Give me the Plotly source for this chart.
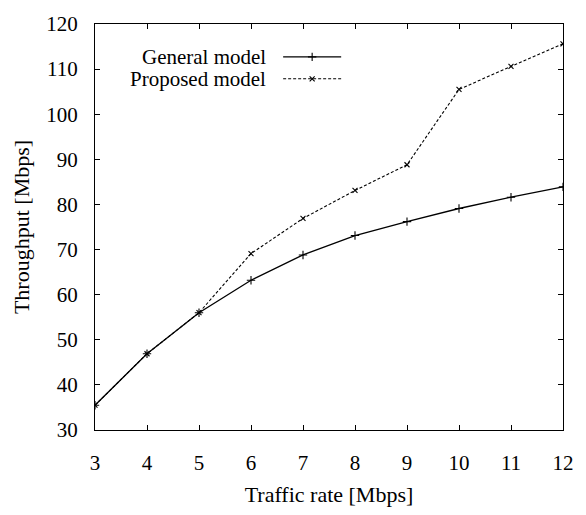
import plotly.graph_objects as go

traffic_rate = [3, 4, 5, 6, 7, 8, 9, 10, 11, 12]
general_model = [35.5, 46.9, 56.0, 63.2, 68.8, 73.1, 76.2, 79.1, 81.6, 83.9]
proposed_model = [35.5, 46.9, 56.0, 69.1, 76.9, 83.1, 88.8, 105.5, 110.6, 115.6]
series_names = ["General model", "Proposed model"]
x_ticks = list(range(3, 13))
y_ticks = list(range(30, 121, 10))

FONT = "Liberation Serif"
BLACK = "#000000"

fig = go.Figure()
fig.add_trace(go.Scatter(
    x=traffic_rate, y=general_model, mode="lines+markers", name=series_names[0],
    line=dict(color=BLACK, width=1.3),
    marker=dict(symbol="cross-thin", size=6, line=dict(color=BLACK, width=1.1)),
    showlegend=False))
fig.add_trace(go.Scatter(
    x=traffic_rate, y=proposed_model, mode="lines+markers", name=series_names[1],
    line=dict(color=BLACK, width=1.1, dash="3px,2px"),
    marker=dict(symbol="x-thin", size=5, line=dict(color=BLACK, width=1.1)),
    showlegend=False))

# custom legend (text left of sample, as in the reference)
leg_rows = [0.919, 0.865]
leg_x0, leg_x1 = 0.402, 0.526
styles = [dict(dash="solid", width=1.3, sym="cross-thin", size=6),
          dict(dash="3px,2px", width=1.1, sym="x-thin", size=5)]
for name, yy, st in zip(series_names, leg_rows, styles):
    fig.add_trace(go.Scatter(
        x=[leg_x0, leg_x1], y=[yy, yy], xaxis="x2", yaxis="y2", mode="lines",
        line=dict(color=BLACK, width=st["width"], dash=st["dash"]),
        showlegend=False, hoverinfo="skip"))
    fig.add_trace(go.Scatter(
        x=[(leg_x0 + leg_x1) / 2], y=[yy], xaxis="x2", yaxis="y2", mode="markers",
        marker=dict(symbol=st["sym"], size=st["size"], line=dict(color=BLACK, width=1.1)),
        showlegend=False, hoverinfo="skip"))
    fig.add_annotation(x=leg_x0 - 0.032, y=yy, xref="x2", yref="y2", text=name,
                       showarrow=False, xanchor="right", yanchor="middle",
                       font=dict(family=FONT, size=21, color=BLACK))

axis_common = dict(
    showline=True, linecolor=BLACK, linewidth=1.3, mirror="ticks",
    ticks="inside", ticklen=5, tickwidth=1, tickcolor=BLACK,
    showgrid=False, zeroline=False,
    tickfont=dict(family=FONT, size=21, color=BLACK),
)

fig.update_layout(
    width=586, height=515,
    margin=dict(l=95, r=23, t=14, b=70),
    paper_bgcolor="white", plot_bgcolor="white",
    font=dict(family=FONT, color=BLACK),
    xaxis=dict(range=[3, 12], tickvals=x_ticks, ticklabelstandoff=14,
               title=dict(text="Traffic rate [Mbps]", standoff=12,
                          font=dict(family=FONT, size=22, color=BLACK)),
               **axis_common),
    yaxis=dict(range=[30, 120], tickvals=y_ticks, ticklabelstandoff=12,
               title=dict(text="Throughput [Mbps]", standoff=10,
                          font=dict(family=FONT, size=22, color=BLACK)),
               **axis_common),
    xaxis2=dict(range=[0, 1], overlaying="x", visible=False, fixedrange=True),
    yaxis2=dict(range=[0, 1], overlaying="y", visible=False, fixedrange=True),
    showlegend=False,
)

fig.write_html("out.html")
